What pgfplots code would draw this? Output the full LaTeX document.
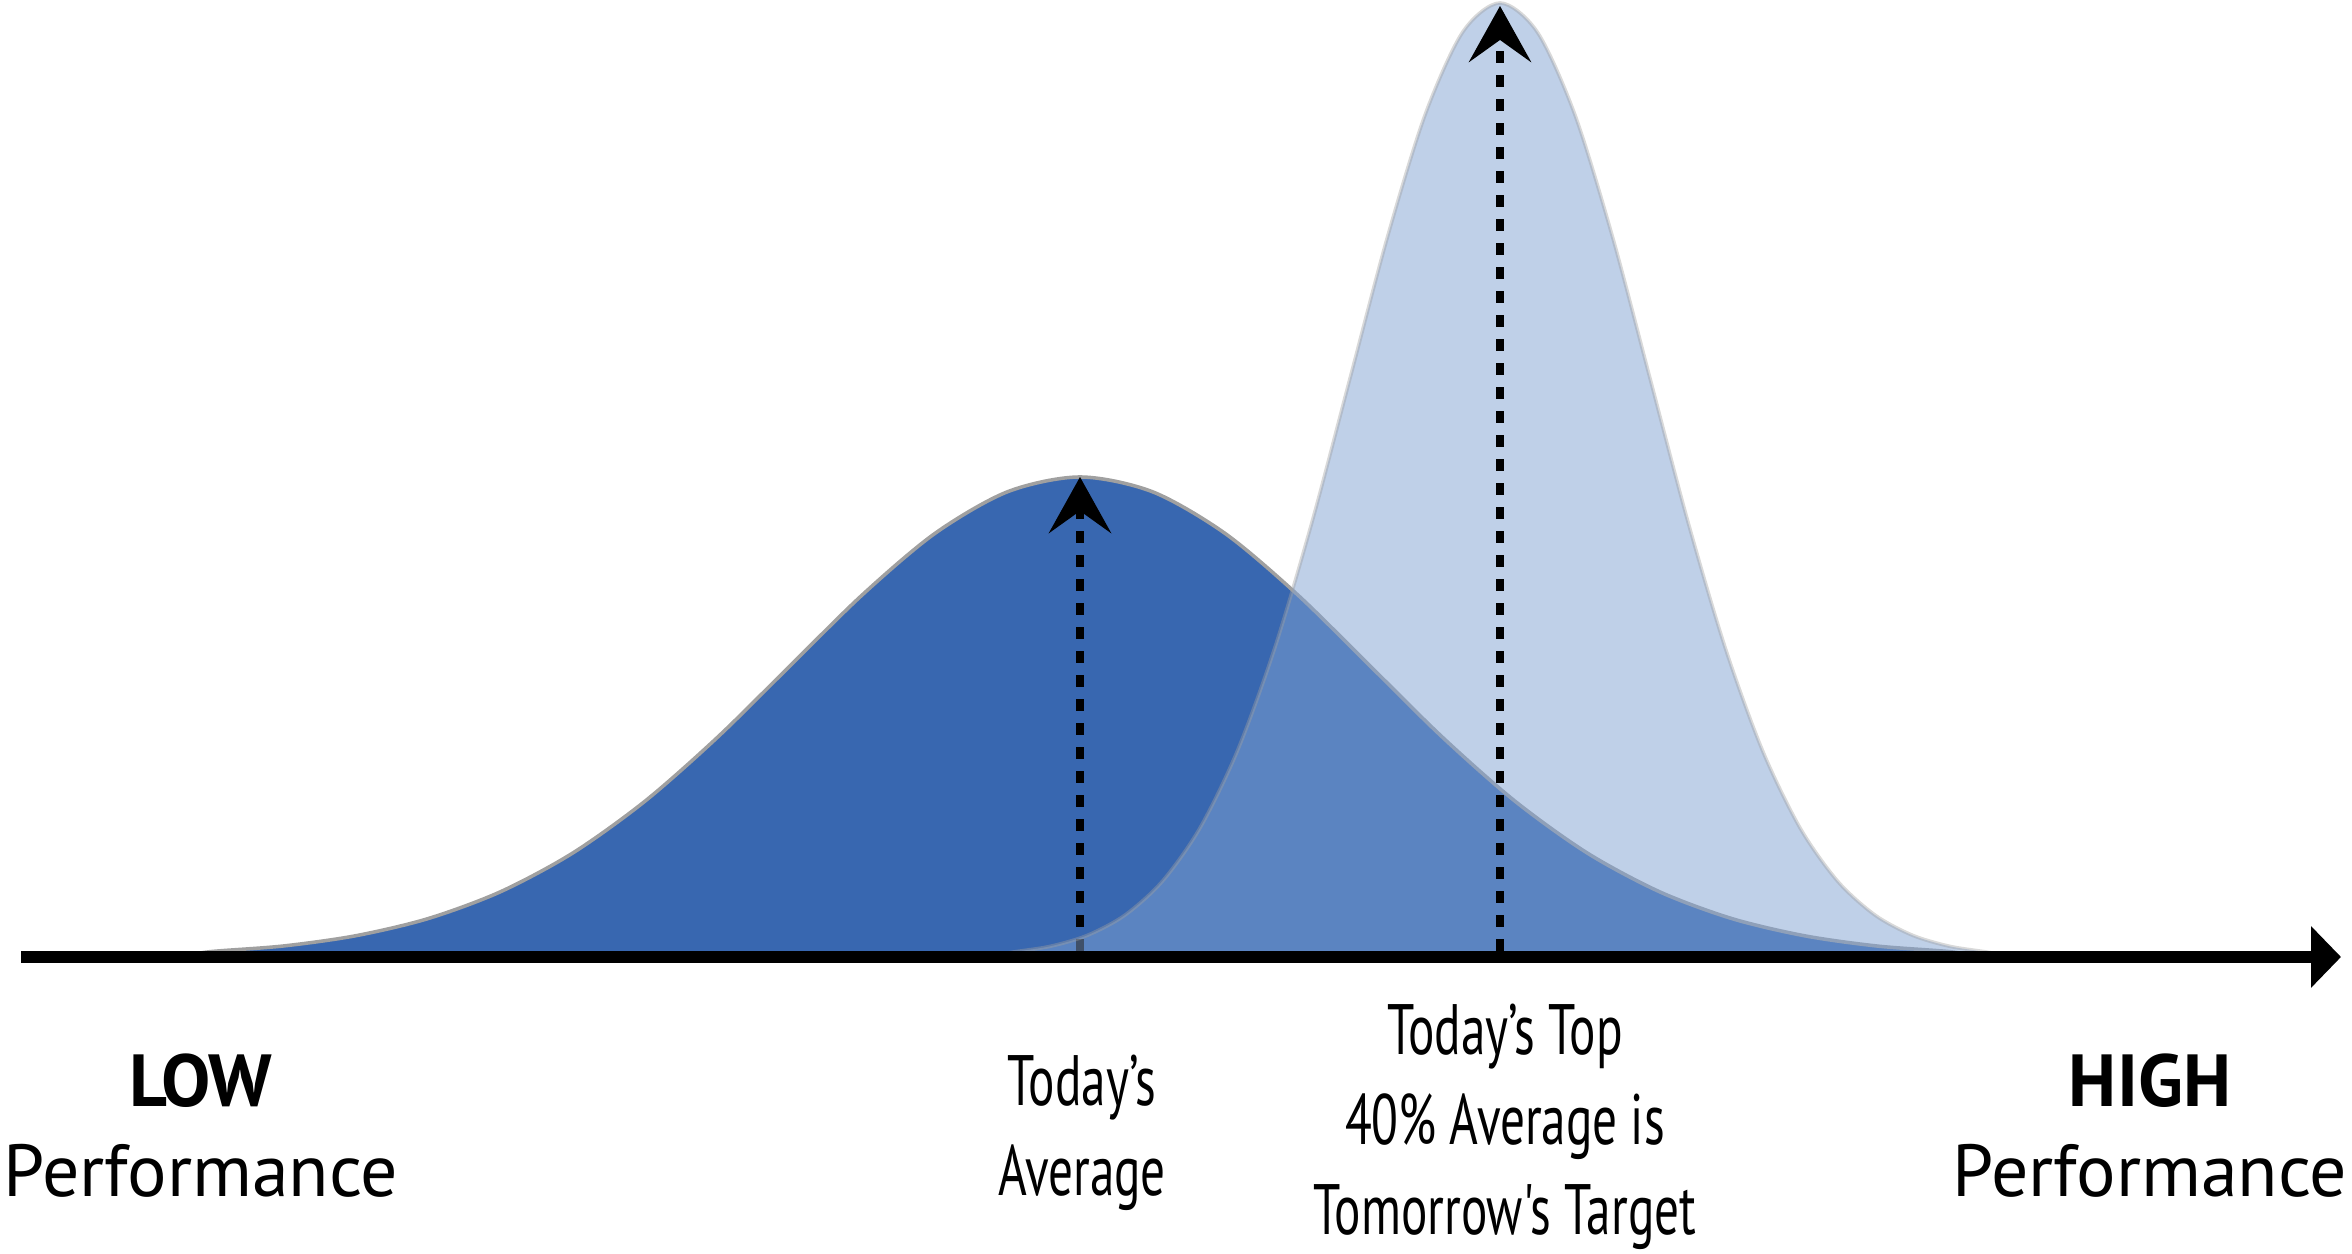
\documentclass[border=0pt]{standalone}
\usepackage{pgfplots}
\pgfplotsset{compat=1.18}
\usetikzlibrary{arrows.meta}
\usepackage{fontspec}
\setmainfont{PT Sans}
\newfontfamily\condfont[FakeStretch=0.69]{PT Sans}
\definecolor{darkblue}{RGB}{56,103,176}
\definecolor{lightc}{RGB}{127,161,210}
\definecolor{outlinegray}{RGB}{160,160,160}
\begin{document}
\begin{tikzpicture}
\useasboundingbox (0,0) rectangle (23.52cm,12.54cm);
\begin{axis}[
  at={(0,0)}, anchor=south west,
  width=23.52cm, height=12.54cm, scale only axis,
  xmin=0, xmax=2352, ymin=-297, ymax=957,
  hide axis, clip=false,
]
% Today's distribution
\addplot[fill=darkblue, draw=outlinegray, line width=1pt, smooth] coordinates {
(180,0) (210,5.3) (282.5,10.9) (355,21.1) (427.5,38.2) (500,65.0) (572.5,103.8)
(645,155.8) (717.5,219.7) (790,291.1) (862.5,362.3) (935,423.6) (1007.5,465.2)
(1080,480) (1152.5,465.2) (1225,423.6) (1297.5,362.3) (1370,291.1) (1442.5,219.7)
(1515,155.8) (1587.5,103.8) (1660,65.0) (1732.5,38.2) (1805,21.1) (1877.5,10.9)
(1950,5.3) (1980,0)} \closedcycle;
% Today's average arrow
\addplot[black, line width=0.8mm, dash pattern=on 1.2mm off 1.2mm,
  -{Stealth[length=5.6mm,width=6.2mm,inset=2.2mm]}] coordinates {(1080,6) (1080,480)};
% Tomorrow's distribution
\addplot[fill=lightc, draw=outlinegray, fill opacity=0.5, draw opacity=0.4, line width=1pt, smooth] coordinates {
(990,0) (1012.5,4.8) (1050,10.6) (1087.5,21.7) (1125,41.9) (1162.5,75.9) (1200,129.1)
(1237.5,206.4) (1275,309.8) (1312.5,436.7) (1350,578.6) (1387.5,720.1) (1425,841.9)
(1462.5,924.6) (1500,954) (1537.5,924.6) (1575,841.9) (1612.5,720.1) (1650,578.6)
(1687.5,436.7) (1725,309.8) (1762.5,206.4) (1800,129.1) (1837.5,75.9) (1875,41.9)
(1912.5,21.7) (1950,10.6) (1987.5,4.8) (2010,0)} \closedcycle;
% Target arrow
\addplot[black, line width=0.8mm, dash pattern=on 1.2mm off 1.2mm,
  -{Stealth[length=5.6mm,width=6.2mm,inset=2.2mm]}] coordinates {(1500,6) (1500,951)};
% Performance axis
\addplot[black, line width=1.2mm, -{Triangle[length=3mm,width=6mm]}] coordinates {(21,0) (2341,0)};
% Labels
\node[anchor=base, font=\fontsize{21}{25}\selectfont\bfseries] at (axis cs:201,-150) {LOW};
\node[anchor=base, font=\fontsize{21}{25}\selectfont] at (axis cs:201,-240) {Performance};
\node[anchor=base, font=\fontsize{21}{25}\selectfont\bfseries] at (axis cs:2150,-150) {HIGH};
\node[anchor=base, font=\fontsize{21}{25}\selectfont] at (axis cs:2150,-240) {Performance};
\node[anchor=base, font=\fontsize{20.3}{25}\selectfont\condfont] at (axis cs:1082,-149) {Today’s};
\node[anchor=base, font=\fontsize{20.3}{25}\selectfont\condfont] at (axis cs:1082,-239) {Average};
\node[anchor=base, font=\fontsize{20.3}{25}\selectfont\condfont] at (axis cs:1505,-98) {Today’s Top};
\node[anchor=base, font=\fontsize{20.3}{25}\selectfont\condfont] at (axis cs:1505,-188) {40\% Average is};
\node[anchor=base, font=\fontsize{20.3}{25}\selectfont\condfont] at (axis cs:1505,-278) {Tomorrow's Target};
\end{axis}
\end{tikzpicture}
\end{document}
